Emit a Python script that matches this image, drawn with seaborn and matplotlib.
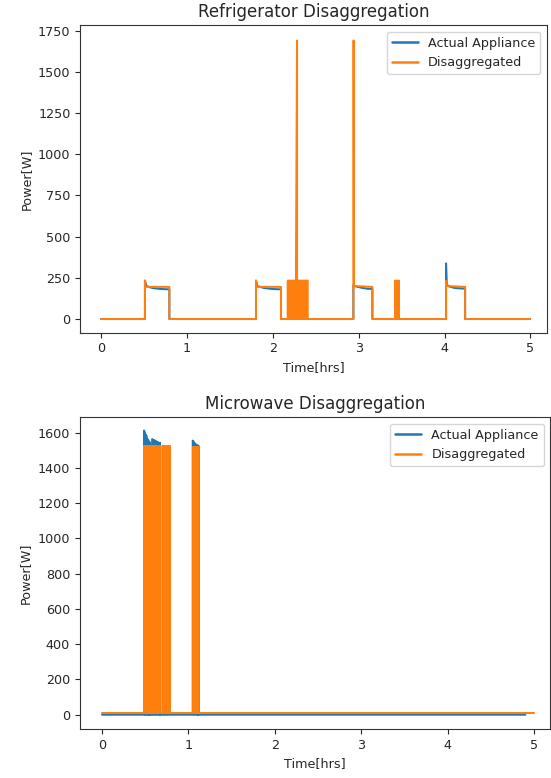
import numpy as np
import pandas as pd
import seaborn as sns
import matplotlib
matplotlib.use("Agg")
import matplotlib.pyplot as plt

# Refrigerator - actual appliance (time [hrs], power [W]) breakpoints
fridge_actual_t = [0.0, 0.512, 0.512, 0.53, 0.60, 0.70, 0.796, 0.796,
                   1.805, 1.805, 1.82, 1.90, 2.00, 2.096, 2.096,
                   2.939, 2.939, 2.955, 3.03, 3.10, 3.16, 3.16,
                   4.018, 4.018, 4.026, 4.04, 4.12, 4.24, 4.24, 4.997]
fridge_actual_w = [0, 0, 233, 200, 188, 182, 180, 0,
                   0, 233, 200, 188, 182, 180, 0,
                   0, 205, 200, 190, 184, 182, 0,
                   0, 338, 215, 200, 188, 184, 0, 0]

# Refrigerator - disaggregated, plain steps
fridge_disagg_t = [0.0, 0.512, 0.512, 0.52, 0.796, 0.796,
                   1.805, 1.805, 1.815, 2.096, 2.096, 2.174]
fridge_disagg_w = [0, 0, 233, 195, 195, 0,
                   0, 233, 195, 195, 0, 0]
# fast switching block around 2.2 hrs (incl. the big spike)
fridge_burst_t = [2.174, 2.190, 2.206, 2.222, 2.238, 2.254, 2.270, 2.283,
                  2.296, 2.312, 2.328, 2.344, 2.360, 2.376, 2.392, 2.407]
fridge_burst_w = [233, 233, 233, 233, 233, 233, 233, 1690,
                  233, 233, 233, 233, 233, 233, 233, 233]
fridge_disagg2_t = [2.407, 2.939, 2.939, 2.944, 2.946, 3.16, 3.16, 3.424]
fridge_disagg2_w = [0, 0, 1690, 1690, 200, 195, 0, 0]
fridge_burst2_t = [3.424, 3.438, 3.456, 3.470]
fridge_burst2_w = [233, 233, 233, 233]
fridge_disagg3_t = [3.470, 4.018, 4.018, 4.03, 4.24, 4.24, 4.997]
fridge_disagg3_w = [0, 0, 233, 200, 195, 0, 0]

# Microwave - actual appliance
mw_actual_pulses_t = [[0.486, 0.497, 0.508, 0.519, 0.530, 0.541, 0.552],
                      [0.580, 0.592, 0.604, 0.616, 0.628, 0.640, 0.652, 0.664, 0.671],
                      [0.700, 0.712, 0.724, 0.736, 0.748, 0.760, 0.772, 0.786],
                      [1.050, 1.062, 1.074, 1.086, 1.098, 1.108, 1.115]]
mw_actual_pulses_w = [[1612, 1600, 1588, 1575, 1562, 1552, 1545],
                      [1563, 1560, 1557, 1554, 1550, 1547, 1544, 1541, 1540],
                      [1525, 1525, 1524, 1524, 1523, 1522, 1521, 1520],
                      [1555, 1547, 1540, 1534, 1530, 1527, 1525]]
mw_actual_end = 4.90

# Microwave - disaggregated
mw_disagg_pulses_t = [[0.488, 0.499, 0.510, 0.521, 0.532, 0.543, 0.552],
                      [0.582, 0.594, 0.606, 0.618, 0.630, 0.642, 0.654, 0.666, 0.671],
                      [0.702, 0.714, 0.726, 0.738, 0.750, 0.762, 0.774, 0.786],
                      [1.057, 1.068, 1.079, 1.090, 1.101, 1.110, 1.115]]
mw_disagg_level = [1525, 1525, 1525, 1520]
mw_disagg_base = 10
mw_disagg_end = 5.0

actual_label = "Actual Appliance"
disagg_label = "Disaggregated"


def strobe(times, levels, base=0):
    # zig-zag through on/off switching so the block reads as filled
    xs, ys = [], []
    for i, (t, w) in enumerate(zip(times, levels)):
        if i % 2 == 0:
            xs += [t, t]
            ys += [base, w]
        else:
            xs += [t, t]
            ys += [w, base]
    # always finish back on the base line
    xs.append(times[-1])
    ys.append(base)
    return xs, ys


# Build the long-form frames
def frame(xs, ys, name):
    return pd.DataFrame({"Time": xs, "Power": ys, "series": name})


# refrigerator
ft, fw = list(fridge_disagg_t), list(fridge_disagg_w)
bx, by = strobe(fridge_burst_t, fridge_burst_w)
ft += bx + fridge_disagg2_t
fw += by + fridge_disagg2_w
bx, by = strobe(fridge_burst2_t, fridge_burst2_w)
ft += bx + fridge_disagg3_t
fw += by + fridge_disagg3_w

fridge_df = pd.concat([frame(fridge_actual_t, fridge_actual_w, actual_label),
                       frame(ft, fw, disagg_label)], ignore_index=True)

# microwave
at, aw = [0.0], [0]
for times, levels in zip(mw_actual_pulses_t, mw_actual_pulses_w):
    x, y = strobe(times, levels)
    at += [times[0]] + x
    aw += [0] + y
at.append(mw_actual_end)
aw.append(0)

dt, dw = [0.0], [mw_disagg_base]
for times, lvl in zip(mw_disagg_pulses_t, mw_disagg_level):
    x, y = strobe(times, [lvl] * len(times), base=mw_disagg_base)
    dt += [times[0]] + x
    dw += [mw_disagg_base] + y
dt.append(mw_disagg_end)
dw.append(mw_disagg_base)

mw_df = pd.concat([frame(at, aw, actual_label),
                   frame(dt, dw, disagg_label)], ignore_index=True)

# Plot
sns.set_style("ticks")
plt.rcParams["font.family"] = ["DejaVu Sans"]
colors = ["#1f77b4", "#ff7f0e"]

fig = plt.figure(figsize=(5.51, 7.78), dpi=100)
ax1 = fig.add_axes([0.1457, 0.5724, 0.8465, 0.3951])
ax2 = fig.add_axes([0.1447, 0.0630, 0.8535, 0.4006])

for ax, df, title, xlim, ylim in [
        (ax1, fridge_df, "Refrigerator Disaggregation", (-0.241, 5.19), (-83, 1783)),
        (ax2, mw_df, "Microwave Disaggregation", (-0.258, 5.185), (-81, 1687))]:
    sns.lineplot(data=df, x="Time", y="Power", hue="series", palette=colors,
                 estimator=None, sort=False, linewidth=1.45, ax=ax)
    ax.set_xlim(*xlim)
    ax.set_ylim(*ylim)
    ax.set_title(title, fontsize=12, color="#262626")
    ax.set_xlabel("Time[hrs]", fontsize=9.2)
    ax.set_ylabel("Power[W]", fontsize=9.2)
    ax.tick_params(labelsize=9.2)
    for s in ax.spines.values():
        s.set_color("#333333")
    leg = ax.legend(loc="upper right", fontsize=9.2, title=None)
    for line in leg.get_lines():
        line.set_linewidth(1.8)

ax2.set_yticks([0, 200, 400, 600, 800, 1000, 1200, 1400, 1600])

fig.savefig("out.png", dpi=100)
